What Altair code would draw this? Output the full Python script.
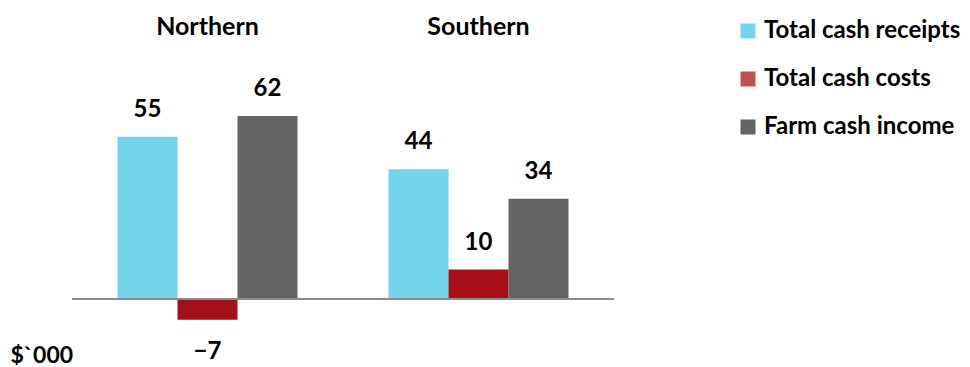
import altair as alt
import pandas as pd

regions = ["Northern", "Northern", "Northern", "Southern", "Southern", "Southern"]
series = ["Total cash receipts", "Total cash costs", "Farm cash income"] * 2
values = [55, -7, 62, 44, 10, 34]

series_order = ["Total cash receipts", "Total cash costs", "Farm cash income"]
legend_colors = ["#74D4EC", "#C0504D", "#646464"]
cost_bar_color = "#A50F18"

df = pd.DataFrame({"region": regions, "series": series, "value": values})

FONT = "Lato"

x_enc = alt.X(
    "region:N",
    sort=["Northern", "Southern"],
    scale=alt.Scale(paddingInner=0.336, paddingOuter=0.168),
    axis=alt.Axis(
        orient="top", title=None, domain=False, ticks=False, labelAngle=0,
        labelFont=FONT, labelFontWeight="bold", labelFontSize=25,
        labelColor="black", labelPadding=24,
    ),
)
xoff = alt.XOffset("series:N", sort=series_order,
                   scale=alt.Scale(paddingInner=0, paddingOuter=0))
y_enc = alt.Y(
    "value:Q",
    scale=alt.Scale(domain=[-20, 80], nice=False),
    axis=alt.Axis(
        domain=False, ticks=False, labels=False, grid=False,
        title="$`000", titleAngle=0, titleAlign="left", titleBaseline="middle",
        titleX=-62, titleY=292, titleFont=FONT, titleFontSize=23,
        titleFontWeight="bold", titleColor="black",
    ),
)

base = alt.Chart(df)

bars = base.mark_bar(size=60).encode(
    x=x_enc,
    xOffset=xoff,
    y=y_enc,
    color=alt.condition(
        alt.datum.series == "Total cash costs",
        alt.value(cost_bar_color),
        alt.Color(
            "series:N",
            sort=series_order,
            scale=alt.Scale(domain=series_order, range=legend_colors),
            legend=alt.Legend(
                title=None, orient="none", legendX=664, legendY=-44,
                symbolType="square", symbolSize=225, symbolStrokeWidth=0,
                labelFont=FONT, labelFontSize=24, labelFontWeight="bold",
                labelColor="black", labelOffset=4, rowPadding=24,
                labelLimit=300,
            ),
        ),
    ),
)

pos_labels = base.transform_filter(alt.datum.value >= 0).mark_text(
    dy=-27, font=FONT, fontSize=24, fontWeight="bold", color="black",
    baseline="middle",
).encode(x=x_enc, xOffset=xoff, y=y_enc, text=alt.Text("value:Q", format="d"))

neg_labels = base.transform_filter(alt.datum.value < 0).mark_text(
    dy=32, font=FONT, fontSize=24, fontWeight="bold", color="black",
    baseline="middle",
).encode(x=x_enc, xOffset=xoff, y=y_enc, text=alt.Text("value:Q", format="d"))

zero_line = alt.Chart(pd.DataFrame({"zero": [0]})).mark_rule(
    color="#8C8C8C", strokeWidth=2
).encode(y=alt.Y("zero:Q"))

chart = (
    alt.layer(bars, zero_line, pos_labels, neg_labels)
    .properties(
        width=542, height=295,
        autosize=alt.AutoSizeParams(type="none"),
        padding={"left": 72, "top": 63, "right": 356, "bottom": 9},
        background="white",
    )
    .configure_view(stroke=None)
)

chart.save("out.html", embed_options={"renderer": "svg", "actions": False})
